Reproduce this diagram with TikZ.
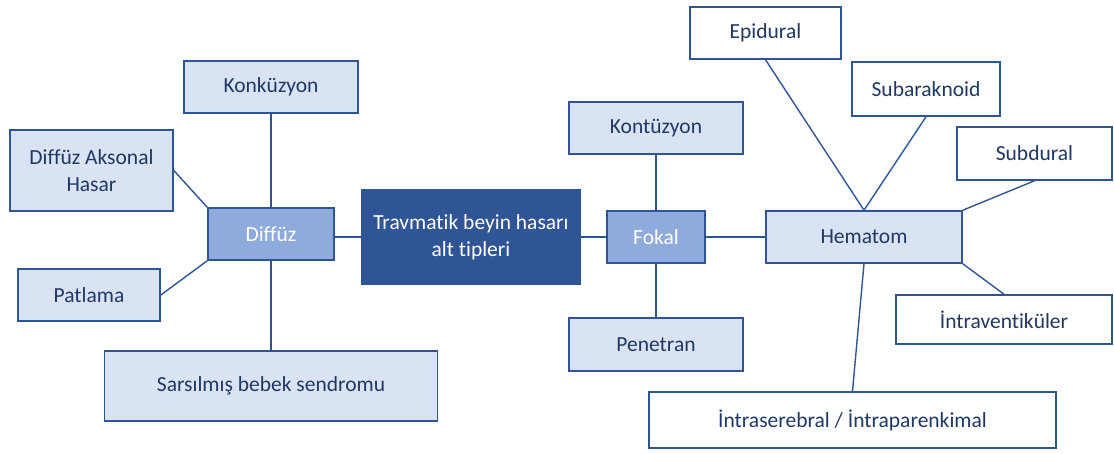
\documentclass[tikz,border=0pt]{standalone}
\usepackage{fontspec}
\setmainfont[Ligatures={NoCommon}]{Carlito}
\definecolor{dblue}{HTML}{2F5597}
\definecolor{mblue}{HTML}{8FAADC}
\definecolor{lblue}{HTML}{DAE3F3}
\definecolor{tnavy}{HTML}{1F3864}
\begin{document}
\begin{tikzpicture}[x=1pt,y=-1pt,
  base/.style={draw=dblue, line width=1.6pt, inner sep=0pt, align=center,
    font=\fontsize{21.5}{27}\selectfont},
  lbox/.style={base, fill=lblue, text=tnavy},
  wbox/.style={base, fill=white, text=tnavy},
  mbox/.style={base, fill=mblue, text=white},
  cbox/.style={base, fill=dblue, text=white},
  conn/.style={draw=dblue, line width=1.4pt}]
\useasboundingbox (0,0) rectangle (1114,453);
% nodes
\node[cbox, minimum width=218pt, minimum height=94pt] (center) at (471,237) {Travmatik beyin hasarı\\alt tipleri};
\node[mbox, minimum width=126pt, minimum height=52pt] (diffuz) at (271,234) {Diffüz};
\node[mbox, minimum width=98pt, minimum height=52pt] (fokal) at (656,237) {Fokal};
\node[lbox, minimum width=174pt, minimum height=52pt] (konk) at (271,87) {Konküzyon};
\node[lbox, minimum width=163pt, minimum height=81pt] (dah) at (91.5,170.5) {Diffüz Aksonal\\Hasar};
\node[lbox, minimum width=142pt, minimum height=52pt] (patlama) at (89,295) {Patlama};
\node[lbox, minimum width=333pt, minimum height=70pt] (sbs) at (271,386) {Sarsılmış bebek sendromu};
\node[lbox, minimum width=174pt, minimum height=52pt] (kontuzyon) at (656,128) {Kontüzyon};
\node[lbox, minimum width=174pt, minimum height=53pt] (penetran) at (656,344.5) {Penetran};
\node[lbox, minimum width=196pt, minimum height=52pt] (hematom) at (864,237) {Hematom};
\node[wbox, minimum width=151pt, minimum height=52pt] (epidural) at (765.5,33) {Epidural};
\node[wbox, minimum width=148pt, minimum height=54pt] (subarak) at (926,89) {Subaraknoid};
\node[wbox, minimum width=155pt, minimum height=53pt] (subdural) at (1034.5,153.5) {Subdural};
\node[wbox, minimum width=216pt, minimum height=49pt] (intravent) at (1004,319.5) {İntraventiküler};
\node[wbox, minimum width=407pt, minimum height=56pt] (intraser) at (852.5,420) {İntraserebral / İntraparenkimal};
% connectors
\draw[conn] (center.west) -- (diffuz.east |- center.west);
\draw[conn] (konk.south) -- (diffuz.north);
\draw[conn] (dah.east) -- (diffuz.north west);
\draw[conn] (patlama.east) -- (diffuz.south west);
\draw[conn] (sbs.north) -- (diffuz.south);
\draw[conn] (center.east) -- (fokal.west);
\draw[conn] (kontuzyon.south) -- (fokal.north);
\draw[conn] (penetran.north) -- (fokal.south);
\draw[conn] (fokal.east) -- (hematom.west);
\draw[conn] (epidural.south) -- (hematom.north);
\draw[conn] (subarak.south) -- (hematom.north);
\draw[conn] (subdural.south) -- (hematom.north east);
\draw[conn] (hematom.south east) -- (intravent.north);
\draw[conn] (hematom.south) -- (intraser.north);
\end{tikzpicture}
\end{document}
